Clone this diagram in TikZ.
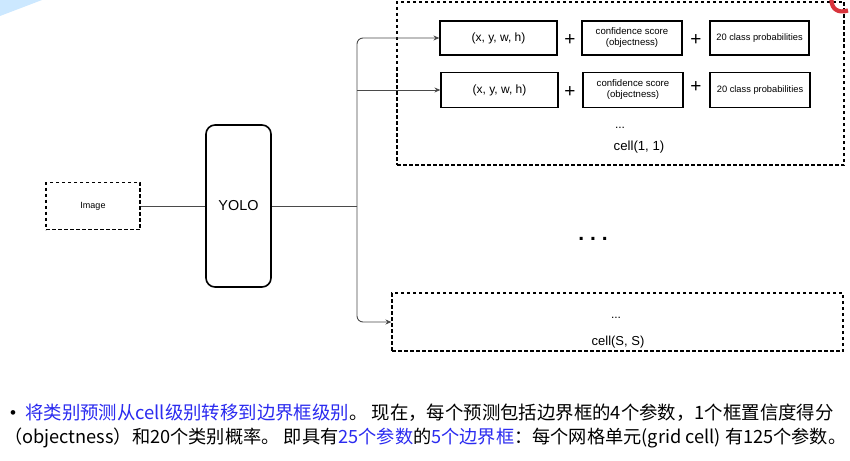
\documentclass[tikz,border=0pt]{standalone}
\usepackage{fontspec}
\setmainfont{Liberation Sans}
\newfontfamily\cjk{Noto Sans CJK SC}
\usetikzlibrary{arrows.meta}
\definecolor{txtblue}{HTML}{2B2BF0}
\definecolor{linegray}{HTML}{4A4A4A}
\definecolor{lightblue}{HTML}{CCE8FF}
\definecolor{logored}{HTML}{D8343C}
\tikzset{
  solidbox/.style={draw=black, line width=1.2pt, inner sep=0pt, align=center},
  dashbox/.style={draw=black, line width=1.1pt, dash pattern=on 3.5pt off 2.5pt, inner sep=0pt},
  conn/.style={draw=linegray, line width=0.9pt},
  arr/.style={conn, -{Stealth[length=6pt,width=5pt]}},
  plussign/.style={font=\fontsize{19}{19}\selectfont, inner sep=0pt},
  smalltxt/.style={font=\fontsize{9.6}{11}\selectfont},
  bottomtxt/.style={anchor=base west, inner sep=0pt, font=\cjk\fontsize{18.4}{22}\selectfont},
}
\begin{document}
\begin{tikzpicture}[x=1pt,y=-1pt]
\useasboundingbox[fill=white] (0,0) rectangle (850,460);
\fill[lightblue] (0,0) -- (42,0) -- (0,16) -- cycle;

% cell(1,1) dashed container
\node[dashbox, minimum width=447pt, minimum height=163pt] (cell11) at (620.5,83.5) {};
% row 1
\node[solidbox, minimum width=117pt, minimum height=34pt, font=\fontsize{12}{14}\selectfont] (b11) at (498.5,38) {(x, y, w, h)};
\node[plussign] (p11) at (570,40) {+};
\node[solidbox, minimum width=100pt, minimum height=34pt, smalltxt] (b12) at (632,38) {confidence score\\(objectness)};
\node[plussign] (p12) at (696,40) {+};
\node[solidbox, minimum width=99pt, minimum height=34pt, font=\fontsize{9.3}{11}\selectfont] (b13) at (759.5,38) {20 class probabilities};
% row 2
\node[solidbox, minimum width=117pt, minimum height=35pt, font=\fontsize{12}{14}\selectfont] (b21) at (499.5,90) {(x, y, w, h)};
\node[plussign] (p21) at (570,92) {+};
\node[solidbox, minimum width=100pt, minimum height=35pt, smalltxt] (b22) at (633,90) {confidence score\\(objectness)};
\node[plussign] (p22) at (696,87) {+};
\node[solidbox, minimum width=100pt, minimum height=35pt, font=\fontsize{9.3}{11}\selectfont] (b23) at (760,90) {20 class probabilities};
\node[font=\fontsize{12}{12}\selectfont, inner sep=0pt] (dots1) at (620,128) {...};
\node[font=\fontsize{13.2}{14}\selectfont, inner sep=0pt] (lab11) at (639,147) {cell(1, 1)};

% big ellipsis
\node[font=\bfseries\fontsize{21}{21}\selectfont, inner sep=0pt] (bigdots) at (593,239) {.\kern6pt.\kern6pt.};

% cell(S,S)
\node[dashbox, minimum width=451pt, minimum height=58pt] (cellS) at (617.5,322) {};
\node[font=\fontsize{12}{12}\selectfont, inner sep=0pt] (dots2) at (616,318) {...};
\node[font=\fontsize{13}{14}\selectfont, inner sep=0pt] (labS) at (618,342) {cell(S, S)};

% Image and YOLO
\node[dashbox, minimum width=94pt, minimum height=47pt, font=\fontsize{9}{10}\selectfont] (img) at (93,206) {Image};
\node[draw=black, line width=1.6pt, rounded corners=9pt, minimum width=65pt, minimum height=162pt, font=\fontsize{14.4}{16}\selectfont] (yolo) at (238.5,206) {YOLO};

\coordinate (split) at (357,206);
\draw[conn] (img.east) -- (yolo.west);
\draw[conn] (yolo.east) -- (split);
\draw[arr, rounded corners=6pt] (split) |- (b11.west);
\draw[arr] (split |- b21.west) -- (b21.west);
\draw[arr, rounded corners=6pt] (split) |- (cellS.west);

% logo fragment
\draw[logored, line width=4.2pt] (831.5,0) .. controls (831.5,9) and (838,13.5) .. (848,10.5);

% bottom text
\node[anchor=base west, inner sep=0pt, font=\fontsize{17}{17}\selectfont] (bullet) at (10,418) {•};
\node[bottomtxt] (line1) at (25,419)
 {\textcolor{txtblue}{将类别预测从cell级别转移到边界框级别}。 现在，每个预测包括边界框的4个参数，1个框置信度得分};
\node[bottomtxt, font=\cjk\fontsize{18.2}{22}\selectfont] (line2) at (4,443)
 {（objectness）和20个类别概率。 即具有\textcolor{txtblue}{25个参数}的\textcolor{txtblue}{5个边界框}：每个网格单元(grid cell) 有125个参数。};
\end{tikzpicture}
\end{document}
